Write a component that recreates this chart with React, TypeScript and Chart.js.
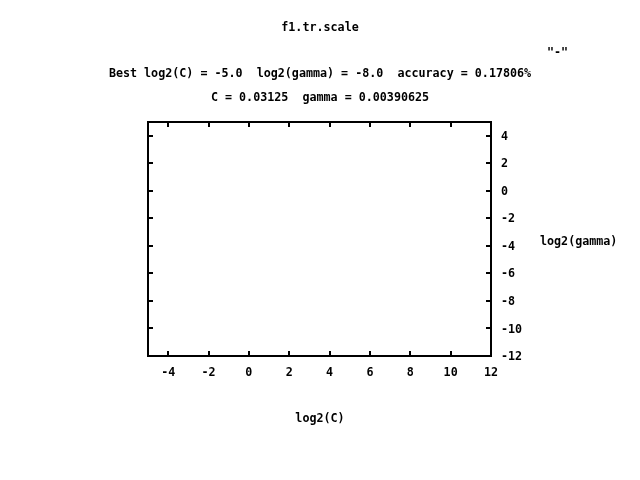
import React, { useEffect, useRef } from "react";
import { Chart, registerables } from "chart.js";

Chart.register(...registerables);

const chartTitle = "f1.tr.scale";
const bestLine = "Best log2(C) = -5.0  log2(gamma) = -8.0  accuracy = 0.17806%";
const paramLine = "C = 0.03125  gamma = 0.00390625";
const seriesLabel = '"-"';
const xTitle = "log2(C)";
const yTitle = "log2(gamma)";

const xTicks = [-4, -2, 0, 2, 4, 6, 8, 10, 12];
const yTicks = [-12, -10, -8, -6, -4, -2, 0, 2, 4];
const xRange = [-5, 12];
const yRange = [-12, 5];
// empty contour data (no points in the reference)
const seriesX: number[] = [];
const seriesY: number[] = [];

const FONT_FAMILY = '"DejaVu Sans Mono", "Liberation Mono", monospace';
const FONT_SIZE = 11.7;
const FONT = `bold ${FONT_SIZE}px ${FONT_FAMILY}`;

const framePlugin = {
  id: "gnuplotFrame",
  afterDraw(chart: any) {
    const { ctx, chartArea } = chart;
    const { left, right, top, bottom } = chartArea;
    const xs = chart.scales.x;
    const ys = chart.scales.y;
    ctx.save();
    ctx.strokeStyle = "#000";
    ctx.lineWidth = 2;
    ctx.strokeRect(left, top, right - left, bottom - top);
    const tl = 5;
    ctx.beginPath();
    for (const v of xTicks) {
      const px = Math.round(xs.getPixelForValue(v));
      ctx.moveTo(px, bottom);
      ctx.lineTo(px, bottom - tl);
      ctx.moveTo(px, top);
      ctx.lineTo(px, top + tl);
    }
    for (const v of yTicks) {
      const py = Math.round(ys.getPixelForValue(v));
      ctx.moveTo(left, py);
      ctx.lineTo(left + tl, py);
      ctx.moveTo(right, py);
      ctx.lineTo(right - tl, py);
    }
    ctx.stroke();

    ctx.fillStyle = "#000";
    ctx.font = FONT;
    ctx.textBaseline = "middle";
    ctx.textAlign = "center";
    ctx.fillText(chartTitle, 320, 28);
    ctx.fillText(bestLine, 320, 74);
    ctx.fillText(paramLine, 320, 98);
    ctx.fillText(xTitle, 320, 419);
    ctx.textAlign = "left";
    ctx.fillText(yTitle, 540, 242);
    ctx.fillText(seriesLabel, 547, 53);
    ctx.restore();
  },
};

export default function App() {
  const canvasRef = useRef<HTMLCanvasElement | null>(null);

  useEffect(() => {
    if (!canvasRef.current) return;
    const chart = new Chart(canvasRef.current, {
      type: "scatter",
      data: {
        datasets: [
          {
            label: seriesLabel,
            data: seriesX.map((x, i) => ({ x, y: seriesY[i] })),
            borderColor: "#ff0000",
            showLine: true,
            pointRadius: 0,
          },
        ],
      },
      options: {
        responsive: false,
        animation: false,
        layout: { padding: { left: 148, top: 122, right: 109, bottom: 84 } },
        plugins: {
          legend: { display: false },
          title: { display: false },
          tooltip: { enabled: false },
        },
        scales: {
          x: {
            type: "linear",
            position: "bottom",
            min: xRange[0],
            max: xRange[1],
            afterBuildTicks: (axis: any) => {
              axis.ticks = xTicks.map((v) => ({ value: v }));
            },
            afterFit: (axis: any) => {
              axis.height = 40;
            },
            grid: { display: false, drawTicks: false },
            border: { display: false },
            ticks: {
              color: "#000",
              padding: 10,
              maxRotation: 0,
              autoSkip: false,
              font: { family: FONT_FAMILY, size: FONT_SIZE, weight: "bold" },
            },
          },
          y: {
            type: "linear",
            position: "right",
            min: yRange[0],
            max: yRange[1],
            afterBuildTicks: (axis: any) => {
              axis.ticks = yTicks.map((v) => ({ value: v }));
            },
            afterFit: (axis: any) => {
              axis.width = 40;
            },
            grid: { display: false, drawTicks: false },
            border: { display: false },
            ticks: {
              color: "#000",
              padding: 10,
              labelOffset: 1,
              autoSkip: false,
              font: { family: FONT_FAMILY, size: FONT_SIZE, weight: "bold" },
            },
          },
        },
      },
      plugins: [framePlugin],
    });
    return () => chart.destroy();
  }, []);

  return (
    <div style={{ position: "absolute", left: 0, top: 0, width: 640, height: 480, background: "#fff" }}>
      <canvas ref={canvasRef} width={640} height={480} style={{ width: 640, height: 480 }} />
    </div>
  );
}
